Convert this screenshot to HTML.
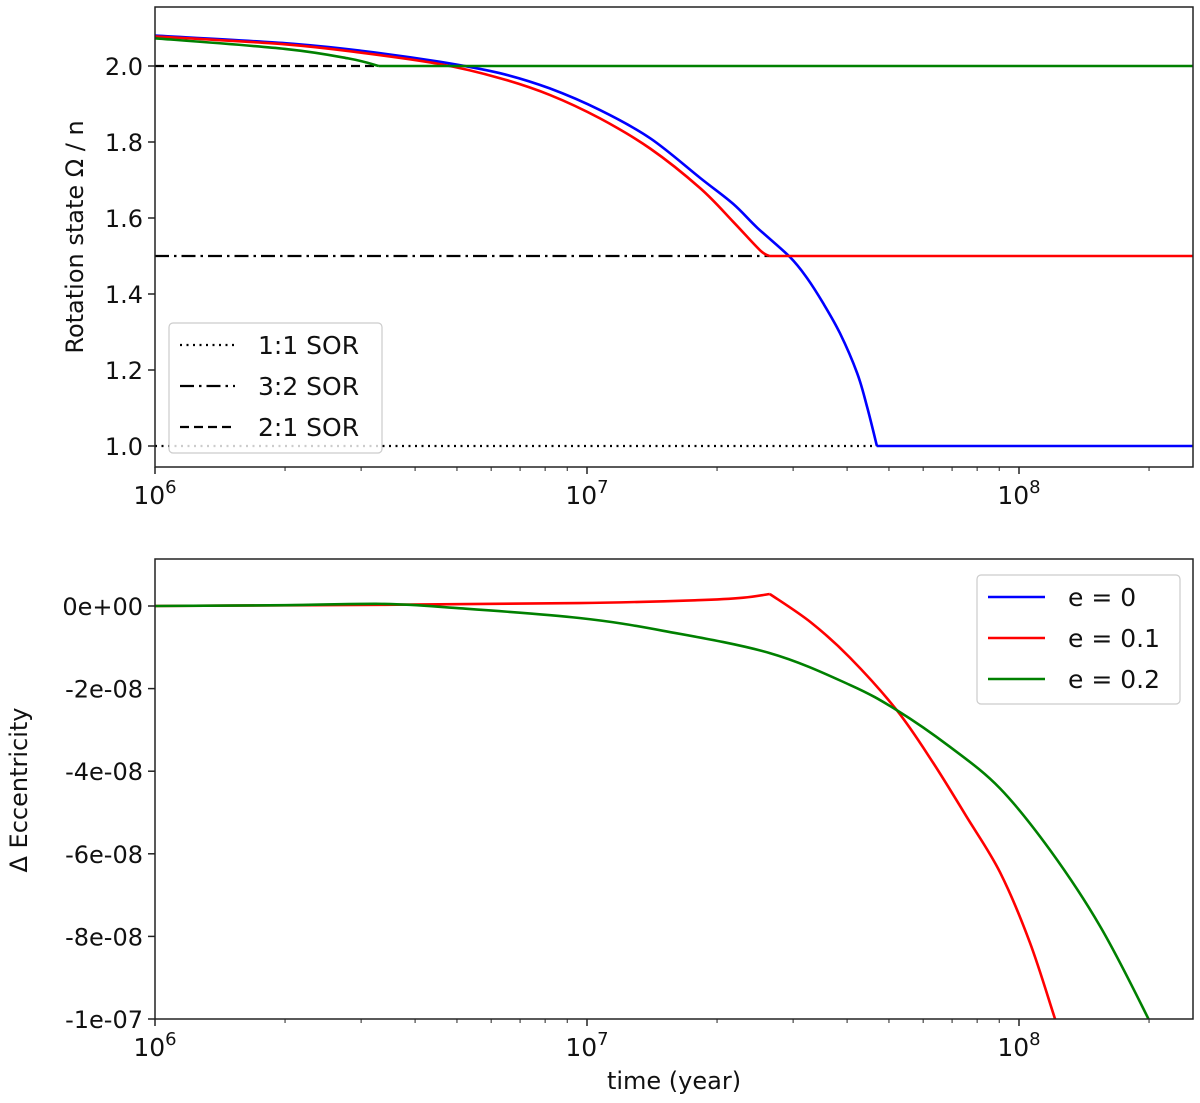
<!DOCTYPE html>
<html><head><meta charset="utf-8"><style>
html,body{margin:0;padding:0;background:#fff;}
svg{display:block;font-family:"DejaVu Sans","Liberation Sans",sans-serif;}
</style></head><body>
<svg id="fig" width="1200" height="1103" viewBox="0 0 1200 1103" xmlns="http://www.w3.org/2000/svg">
<defs>
<clipPath id="clipTop"><rect x="155" y="7" width="1038" height="460"/></clipPath>
<clipPath id="clipBot"><rect x="155" y="559" width="1038" height="460"/></clipPath>
</defs>
<g id="topPanel"></g>
<g id="botPanel"></g>
</svg>
<script>
// ---- data: top panel (rotation state Ω/n) ----
const blueT = [1e6, 2e6, 3e6, 4.57e6, 6.29e6, 8.2e6, 1.072e7, 1.40e7, 1.83e7, 2.18e7, 2.48e7, 2.95e7, 3.23e7, 3.52e7, 3.85e7, 4.22e7, 4.45e7, 4.69e7];
const blueV = [2.080, 2.060, 2.040, 2.011, 1.981, 1.941, 1.884, 1.810, 1.705, 1.637, 1.574, 1.497, 1.442, 1.376, 1.297, 1.192, 1.103, 1.0];
const blueTailT = [4.69e7, 2.55e8];
const blueTailV = [1.0, 1.0];
const redT = [1e6, 2e6, 3e6, 4.57e6, 6.29e6, 8.2e6, 1.072e7, 1.40e7, 1.83e7, 2.18e7, 2.51e7, 2.64e7];
const redV = [2.078, 2.057, 2.035, 2.005, 1.968, 1.924, 1.862, 1.783, 1.678, 1.590, 1.516, 1.500];
const redTailT = [2.64e7, 2.55e8];
const redTailV = [1.5, 1.5];
const greenT = [1e6, 2e6, 2.8e6, 3.3e6];
const greenV = [2.073, 2.045, 2.020, 2.000];
const greenTailT = [3.3e6, 2.55e8];
const greenTailV = [2.0, 2.0];
const sorLevels = [1.0, 1.5, 2.0];
const sorEnds = [4.69e7, 2.64e7, 3.3e6];
const sorNames = ["1:1 SOR", "3:2 SOR", "2:1 SOR"];
const topYTicks = [1.0, 1.2, 1.4, 1.6, 1.8, 2.0];
const topYLabels = ["1.0", "1.2", "1.4", "1.6", "1.8", "2.0"];
// ---- data: bottom panel (Δ eccentricity, units 1e-8) ----
const redET1 = [1e6, 3.4e6, 9.6e6, 1.8e7, 2.3e7, 2.65e7];
const redEV1 = [0, 0.03, 0.07, 0.14, 0.2, 0.29];
const redET2 = [2.65e7, 3.3e7, 4.06e7, 5.21e7, 6.33e7, 7.56e7, 9.04e7, 1.06e8, 1.21e8, 1.3e8];
const redEV2 = [0.29, -0.40, -1.25, -2.52, -3.80, -5.10, -6.45, -8.15, -9.98, -11.0];
const greenET = [1e6, 2e6, 3.4e6, 5e6, 9.6e6, 1.5e7, 2.65e7, 4.06e7, 5.21e7, 6.92e7, 9.04e7, 1.18e8, 1.54e8, 1.99e8, 2.2e8];
const greenEV = [0, 0.02, 0.05, -0.05, -0.29, -0.6, -1.14, -1.91, -2.52, -3.41, -4.42, -5.91, -7.75, -9.98, -11.0];
const botYTicks = [0, -2, -4, -6, -8, -10];
const botYLabels = ["0e+00", "-2e-08", "-4e-08", "-6e-08", "-8e-08", "-1e-07"];
const xDecades = [6, 7, 8];
const legendLabels = ["e = 0", "e = 0.1", "e = 0.2"];
const legendColors = ["#0000ff", "#ff0000", "#008000"];

const NS = "http://www.w3.org/2000/svg";
const X0 = 155, X1 = 1193, DEC = 432;
function xs(t){ return X0 + (Math.log10(t) - 6) * DEC; }
function yTop(v){ return 66 + (2 - v) * 380; }
function yBot(v){ return 606 - v * 41.3; }
function mk(parent, tag, attrs){ const e = document.createElementNS(NS, tag); for (const k in attrs) e.setAttribute(k, attrs[k]); parent.appendChild(e); return e; }
function smoothD(T, V, yf){
  const P = T.map((t,i)=>[xs(t), yf(V[i])]);
  let d = "M" + P[0][0].toFixed(1) + "," + P[0][1].toFixed(1);
  for (let i = 0; i < P.length - 1; i++) {
    const p0 = P[Math.max(i-1,0)], p1 = P[i], p2 = P[i+1], p3 = P[Math.min(i+2,P.length-1)];
    const c1x = p1[0] + (p2[0]-p0[0])/6, c1y = p1[1] + (p2[1]-p0[1])/6;
    const c2x = p2[0] - (p3[0]-p1[0])/6, c2y = p2[1] - (p3[1]-p1[1])/6;
    d += " C" + c1x.toFixed(1)+","+c1y.toFixed(1)+" "+c2x.toFixed(1)+","+c2y.toFixed(1)+" "+p2[0].toFixed(1)+","+p2[1].toFixed(1);
  }
  return d;
}

function axes(g, yT, yB, yTicks, yLabels, yf){
  for (let d = 6; d <= 8; d++) {
    for (let m = 1; m <= 9; m++) {
      const t = m * Math.pow(10, d); const x = xs(t);
      if (x > X1 + 0.5) continue;
      const tk = mk(g, "line", {x1:x, x2:x, y1:yB, y2:yB + (m===1?7:4), stroke:"#222", "stroke-width":m===1?1.5:1});
      
      
    }
  }
  xDecades.forEach(d => {
    const x = xs(Math.pow(10, d));
    const tx = mk(g, "text", {x:x, y:yB + 37, "text-anchor":"middle", "font-size":"25", fill:"#111"});
    
    
    tx.appendChild(document.createTextNode("10"));
    const sup = mk(tx, "tspan", {dy:"-11", "font-size":"18"});
    sup.textContent = String(d);
  });
  yTicks.forEach((v,i) => {
    const y = yf(v);
    const tk = mk(g, "line", {x1:X0-7, x2:X0, y1:y, y2:y, stroke:"#222", "stroke-width":1.5});
    
    
    const tx = mk(g, "text", {x:X0-12, y:y+9, "text-anchor":"end", "font-size":"24", fill:"#111"});
    
    
    tx.textContent = yLabels[i];
  });
  const fr = mk(g, "rect", {x:X0, y:yT, width:X1-X0, height:yB-yT, fill:"none", stroke:"#222", "stroke-width":1.5});
  
  
}

// ---------- top panel ----------
const topG = document.getElementById("topPanel");
const ct = mk(topG, "g", {"clip-path":"url(#clipTop)"});
const dashes = ["2,4.5", "14,5,2.5,5", "9,5"];
sorLevels.forEach((lv,i) => {
  const l = mk(ct, "line", {x1:X0, x2:xs(sorEnds[i]), y1:yTop(lv), y2:yTop(lv), stroke:"#000", "stroke-width":2.2, "stroke-dasharray":dashes[i]});
  
  
});
[[blueT,blueV,"#0000ff","blue-curve"],[blueTailT,blueTailV,"#0000ff","blue-lock"],
 [redT,redV,"#ff0000","red-curve"],[redTailT,redTailV,"#ff0000","red-lock"],
 [greenT,greenV,"#008000","green-curve"],[greenTailT,greenTailV,"#008000","green-lock"]].forEach(s => {
  const p = mk(ct, "path", {d:smoothD(s[0], s[1], yTop), fill:"none", stroke:s[2], "stroke-width":2.6, "stroke-linejoin":"round"});
  
  
});
axes(topG, 7, 467, topYTicks, topYLabels, yTop);
const yt1 = mk(topG, "text", {x:0, y:0, transform:"translate(83,237) rotate(-90)", "text-anchor":"middle", "font-size":"24", fill:"#111"});


yt1.textContent = "Rotation state  Ω / n";
const lg1 = mk(topG, "g", {});


mk(lg1, "rect", {x:169, y:323, width:213, height:130, rx:4, fill:"rgba(255,255,255,0.8)", stroke:"#ccc", "stroke-width":1.2});
sorNames.forEach((n,i) => {
  const y = 345 + i * 41;
  const e = mk(lg1, "g", {});
  
  
  mk(e, "line", {x1:180, x2:235, y1:y, y2:y, stroke:"#000", "stroke-width":2.2, "stroke-dasharray":dashes[i]});
  const t = mk(e, "text", {x:258, y:y+9, "font-size":"25", fill:"#111"}); t.textContent = n;
});

// ---------- bottom panel ----------
const botG = document.getElementById("botPanel");
const cb = mk(botG, "g", {"clip-path":"url(#clipBot)"});
[[redET1,redEV1,"#ff0000","red-curve-rise"],[redET2,redEV2,"#ff0000","red-curve-fall"],[greenET,greenEV,"#008000","green-curve"]].forEach(s => {
  const p = mk(cb, "path", {d:smoothD(s[0], s[1], yBot), fill:"none", stroke:s[2], "stroke-width":2.6, "stroke-linejoin":"round"});
  
  
});
axes(botG, 559, 1019, botYTicks, botYLabels, yBot);
const yt2 = mk(botG, "text", {x:0, y:0, transform:"translate(27,790) rotate(-90)", "text-anchor":"middle", "font-size":"24", fill:"#111"});


yt2.textContent = "Δ Eccentricity";
const xt = mk(botG, "text", {x:674, y:1089, "text-anchor":"middle", "font-size":"24", fill:"#111"});


xt.textContent = "time (year)";
const lg2 = mk(botG, "g", {});


mk(lg2, "rect", {x:977, y:575, width:203, height:129, rx:4, fill:"rgba(255,255,255,0.8)", stroke:"#ccc", "stroke-width":1.2});
legendLabels.forEach((n,i) => {
  const y = 597 + i * 41;
  const e = mk(lg2, "g", {});
  
  
  mk(e, "line", {x1:988, x2:1045, y1:y, y2:y, stroke:legendColors[i], "stroke-width":2.5});
  const t = mk(e, "text", {x:1068, y:y+9, "font-size":"25", fill:"#111"}); t.textContent = n;
});
</script>
</body></html>
